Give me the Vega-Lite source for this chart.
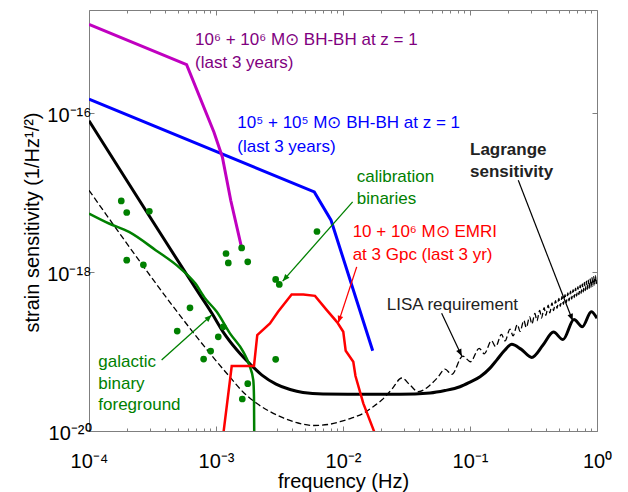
{
  "$schema": "https://vega.github.io/schema/vega-lite/v6.json",
  "width": 508,
  "height": 421,
  "autosize": "none",
  "padding": {"left": 89, "top": 10, "right": 31, "bottom": 61},
  "background": "white",
  "config": {
    "view": {"stroke": "#7f7f7f", "strokeWidth": 1},
    "font": "Liberation Sans",
    "axis": {"domain": false, "grid": false, "tickColor": "#7f7f7f", "tickWidth": 1, "labelFont": "Liberation Sans", "labelFontSize": 20, "labelColor": "#000", "titleFont": "Liberation Sans", "titleFontSize": 20, "titleFontWeight": "normal", "titleColor": "#000", "labelFlush": false, "labelOverlap": false}
  },
  "datasets": {
    "lisa": [
      {"f": 0.0001, "h": 1.074e-17}, {"f": 0.001288, "h": 4.77e-20}, {"f": 0.001633, "h": 3.10e-20}, {"f": 0.002089, "h": 2.23e-20},
      {"f": 0.00266, "h": 1.758e-20}, {"f": 0.00339, "h": 1.459e-20}, {"f": 0.00443, "h": 1.261e-20}, {"f": 0.00581, "h": 1.173e-20},
      {"f": 0.00762, "h": 1.207e-20}, {"f": 0.00947, "h": 1.309e-20}, {"f": 0.01177, "h": 1.459e-20}, {"f": 0.01445, "h": 1.671e-20},
      {"f": 0.01691, "h": 1.977e-20}, {"f": 0.02018, "h": 2.455e-20}, {"f": 0.0243, "h": 3.37e-20}, {"f": 0.029, "h": 4.65e-20},
      {"f": 0.0337, "h": 3.79e-20}, {"f": 0.0392, "h": 3.12e-20}, {"f": 0.0485, "h": 3.79e-20}, {"f": 0.056, "h": 4.77e-20},
      {"f": 0.0635, "h": 6.03e-20}, {"f": 0.0718, "h": 5.16e-20}, {"f": 0.0877, "h": 8.77e-20}, {"f": 0.1009, "h": 7.45e-20},
      {"f": 0.118, "h": 1.097e-19}, {"f": 0.1298, "h": 9.38e-20}, {"f": 0.1475, "h": 1.372e-19}, {"f": 0.1593, "h": 1.152e-19},
      {"f": 0.177, "h": 1.646e-19}, {"f": 0.1888, "h": 1.365e-19}, {"f": 0.2065, "h": 1.921e-19}, {"f": 0.2183, "h": 1.578e-19},
      {"f": 0.236, "h": 2.195e-19}, {"f": 0.2478, "h": 1.792e-19}, {"f": 0.2655, "h": 2.468e-19}, {"f": 0.2773, "h": 2.005e-19},
      {"f": 0.295, "h": 2.743e-19}, {"f": 0.3068, "h": 2.218e-19}, {"f": 0.3245, "h": 3.017e-19}, {"f": 0.3363, "h": 2.431e-19},
      {"f": 0.354, "h": 3.291e-19}, {"f": 0.3658, "h": 2.645e-19}, {"f": 0.3835, "h": 3.566e-19}, {"f": 0.3953, "h": 2.858e-19},
      {"f": 0.413, "h": 3.840e-19}, {"f": 0.4248, "h": 3.071e-19}, {"f": 0.4425, "h": 4.114e-19}, {"f": 0.4543, "h": 3.285e-19},
      {"f": 0.472, "h": 4.389e-19}, {"f": 0.4838, "h": 3.498e-19}, {"f": 0.5015, "h": 4.663e-19}, {"f": 0.5133, "h": 3.711e-19},
      {"f": 0.531, "h": 4.937e-19}, {"f": 0.5428, "h": 3.924e-19}, {"f": 0.5605, "h": 5.212e-19}, {"f": 0.5723, "h": 4.138e-19},
      {"f": 0.59, "h": 5.486e-19}, {"f": 0.6018, "h": 4.351e-19}, {"f": 0.6195, "h": 5.760e-19}, {"f": 0.6313, "h": 4.564e-19},
      {"f": 0.649, "h": 6.035e-19}, {"f": 0.6608, "h": 4.778e-19}, {"f": 0.6785, "h": 6.309e-19}, {"f": 0.6903, "h": 4.991e-19},
      {"f": 0.708, "h": 6.584e-19}, {"f": 0.7198, "h": 5.204e-19}, {"f": 0.7375, "h": 6.858e-19}, {"f": 0.7493, "h": 5.417e-19},
      {"f": 0.767, "h": 7.132e-19}, {"f": 0.7788, "h": 5.631e-19}, {"f": 0.7965, "h": 7.407e-19}, {"f": 0.8083, "h": 5.844e-19},
      {"f": 0.826, "h": 7.680e-19}, {"f": 0.8378, "h": 6.057e-19}, {"f": 0.8555, "h": 7.954e-19}, {"f": 0.8673, "h": 6.271e-19},
      {"f": 0.885, "h": 8.229e-19}, {"f": 0.8968, "h": 6.484e-19}, {"f": 0.9145, "h": 8.503e-19}, {"f": 0.9263, "h": 6.697e-19},
      {"f": 0.944, "h": 8.777e-19}, {"f": 0.9558, "h": 6.91e-19}, {"f": 0.9735, "h": 9.052e-19}, {"f": 0.9853, "h": 7.124e-19},
      {"f": 1.0, "h": 7.9e-19}
    ],
    "curves": [
      {"series": "m", "f": 0.0001, "h": 1.315e-15}, {"series": "m", "f": 0.000587, "h": 4.10e-16}, {"series": "m", "f": 0.000964, "h": 5.77e-17},
      {"series": "m", "f": 0.001122, "h": 2.82e-17}, {"series": "m", "f": 0.001306, "h": 8.05e-18}, {"series": "m", "f": 0.001592, "h": 2.02e-18},
      {"series": "b", "f": 0.0001, "h": 1.514e-16}, {"series": "b", "f": 0.00594, "h": 1.023e-17}, {"series": "b", "f": 0.00805, "h": 4.51e-18}, {"series": "b", "f": 0.01714, "h": 1.023e-19},
      {"series": "k", "f": 0.0001, "h": 8.05e-17}, {"series": "k", "f": 0.000734, "h": 5.40e-19}, {"series": "k", "f": 0.000931, "h": 3.01e-19},
      {"series": "k", "f": 0.00114, "h": 1.758e-19}, {"series": "k", "f": 0.001462, "h": 1.045e-19}, {"series": "k", "f": 0.001854, "h": 6.97e-20},
      {"series": "k", "f": 0.0023, "h": 5.06e-20}, {"series": "k", "f": 0.00297, "h": 3.90e-20}, {"series": "k", "f": 0.00383, "h": 3.33e-20},
      {"series": "k", "f": 0.00484, "h": 3.05e-20}, {"series": "k", "f": 0.00696, "h": 2.92e-20}, {"series": "k", "f": 0.01361, "h": 2.90e-20},
      {"series": "k", "f": 0.0281, "h": 2.90e-20}, {"series": "k", "f": 0.0485, "h": 3.01e-20}, {"series": "k", "f": 0.0635, "h": 3.23e-20},
      {"series": "k", "f": 0.0834, "h": 3.61e-20}, {"series": "k", "f": 0.1, "h": 4.13e-20}, {"series": "k", "f": 0.12, "h": 4.82e-20},
      {"series": "k", "f": 0.1437, "h": 6.19e-20}, {"series": "k", "f": 0.1622, "h": 7.81e-20}, {"series": "k", "f": 0.1853, "h": 1.015e-19},
      {"series": "k", "f": 0.213, "h": 1.233e-19}, {"series": "k", "f": 0.252, "h": 1.074e-19}, {"series": "k", "f": 0.3062, "h": 8.45e-20},
      {"series": "k", "f": 0.3758, "h": 1.208e-19}, {"series": "k", "f": 0.454, "h": 1.758e-19}, {"series": "k", "f": 0.54, "h": 1.416e-19},
      {"series": "k", "f": 0.659, "h": 2.53e-19}, {"series": "k", "f": 0.766, "h": 2.05e-19}, {"series": "k", "f": 0.902, "h": 3.17e-19},
      {"series": "k", "f": 1.0, "h": 2.62e-19},
      {"series": "g", "f": 0.0001, "h": 5.47e-18}, {"series": "g", "f": 0.0001437, "h": 4.10e-18}, {"series": "g", "f": 0.0002065, "h": 3.21e-18},
      {"series": "g", "f": 0.000335, "h": 1.892e-18}, {"series": "g", "f": 0.000512, "h": 1.15e-18}, {"series": "g", "f": 0.000684, "h": 7.28e-19},
      {"series": "g", "f": 0.000819, "h": 4.71e-19}, {"series": "g", "f": 0.001014, "h": 3.17e-19}, {"series": "g", "f": 0.001288, "h": 1.694e-19},
      {"series": "g", "f": 0.001641, "h": 9.93e-20}, {"series": "g", "f": 0.001829, "h": 6.76e-20}, {"series": "g", "f": 0.001966, "h": 4.38e-20},
      {"series": "g", "f": 0.001991, "h": 2.70e-20}, {"series": "g", "f": 0.002005, "h": 5e-21},
      {"series": "r", "f": 0.001114, "h": 6.67e-21}, {"series": "r", "f": 0.00133, "h": 6.58e-20}, {"series": "r", "f": 0.001991, "h": 6.58e-20},
      {"series": "r", "f": 0.002113, "h": 1.614e-19}, {"series": "r", "f": 0.00266, "h": 2.26e-19}, {"series": "r", "f": 0.00308, "h": 3.17e-19},
      {"series": "r", "f": 0.00394, "h": 5.24e-19}, {"series": "r", "f": 0.00487, "h": 5.24e-19}, {"series": "r", "f": 0.00602, "h": 5.03e-19},
      {"series": "r", "f": 0.00745, "h": 3.33e-19}, {"series": "r", "f": 0.00898, "h": 2.35e-19}, {"series": "r", "f": 0.01005, "h": 1.774e-19},
      {"series": "r", "f": 0.0105, "h": 1.023e-19}, {"series": "r", "f": 0.01205, "h": 7.45e-20}, {"series": "r", "f": 0.01254, "h": 4.92e-20},
      {"series": "r", "f": 0.01445, "h": 2.23e-20}, {"series": "r", "f": 0.01866, "h": 7.7e-21}
    ],
    "dots": [
      {"f": 0.0001795, "h": 7.89e-18}, {"f": 0.0001982, "h": 5.64e-18}, {"f": 0.0002986, "h": 5.85e-18}, {"f": 0.0001982, "h": 1.416e-18},
      {"f": 0.000268, "h": 1.236e-18}, {"f": 0.001199, "h": 1.718e-18}, {"f": 0.001592, "h": 2.02e-18}, {"f": 0.00125, "h": 1.309e-18},
      {"f": 0.001778, "h": 1.349e-18}, {"f": 0.00624, "h": 3.25e-18}, {"f": 0.00295, "h": 8.09e-19}, {"f": 0.00315, "h": 7.0e-19},
      {"f": 0.000624, "h": 3.56e-19}, {"f": 0.000495, "h": 1.811e-19}, {"f": 0.001042, "h": 1.535e-19}, {"f": 0.00114, "h": 2.05e-19},
      {"f": 0.000908, "h": 1.015e-19}, {"f": 0.000799, "h": 8.05e-20}, {"f": 0.00295, "h": 7.98e-20}, {"f": 0.001778, "h": 3.94e-20},
      {"f": 0.001611, "h": 2.53e-20}
    ],
    "arrows": [
      {"key": "a1", "f": 0.000373, "h": 7.81e-20}, {"key": "a1", "f": 0.000925, "h": 2.88e-19},
      {"key": "a2", "f": 0.01191, "h": 7.66e-18}, {"key": "a2", "f": 0.00335, "h": 7.71e-19},
      {"key": "a3", "f": 0.01282, "h": 1.167e-18}, {"key": "a3", "f": 0.00918, "h": 2.30e-19},
      {"key": "a4", "f": 0.0598, "h": 3.03e-19}, {"key": "a4", "f": 0.0861, "h": 8.77e-20},
      {"key": "a5", "f": 0.2399, "h": 1.435e-17}, {"key": "a5", "f": 0.644, "h": 2.44e-19}
    ],
    "heads": [
      {"key": "a1", "f": 0.000925, "h": 2.88e-19},
      {"key": "a2", "f": 0.00335, "h": 7.71e-19},
      {"key": "a3", "f": 0.00918, "h": 2.30e-19},
      {"key": "a4", "f": 0.0861, "h": 8.77e-20},
      {"key": "a5", "f": 0.644, "h": 2.44e-19}
    ],
    "labels": [
      {"key": "m", "f": 0.000684, "h": 7.16e-16, "text": "10⁶ + 10⁶ M⊙ BH-BH at z = 1\n(last 3 years)"},
      {"key": "b", "f": 0.001472, "h": 6.61e-17, "text": "10⁵ + 10⁵ M⊙ BH-BH at z = 1\n(last 3 years)"},
      {"key": "cal", "f": 0.01282, "h": 1.355e-17, "text": "calibration\nbinaries"},
      {"key": "emri", "f": 0.01191, "h": 2.78e-18, "text": "10 + 10⁶ M⊙ EMRI\nat 3 Gpc (last 3 yr)"},
      {"key": "lag", "f": 0.1, "h": 3.03e-17, "text": "Lagrange\nsensitivity"},
      {"key": "lisa", "f": 0.0221, "h": 3.33e-19, "text": "LISA requirement"},
      {"key": "gal", "f": 0.0001184, "h": 6.38e-20, "text": "galactic\nbinary\nforeground"}
    ]
  },
  "resolve": {"axis": {"x": "independent", "y": "independent"}},
  "encoding": {
    "x": {"field": "f", "type": "quantitative", "scale": {"type": "log", "domain": [0.0001, 1], "nice": false}, "axis": null},
    "y": {"field": "h", "type": "quantitative", "scale": {"type": "log", "domain": [1e-20, 2e-15], "nice": false}, "axis": null}
  },
  "layer": [
    {
      "data": {"name": "lisa"},
      "mark": {"type": "line", "color": "#000000", "strokeWidth": 1.3, "strokeDash": [6, 3], "interpolate": "monotone", "clip": true},
      "encoding": {
        "x": {"field": "f", "type": "quantitative", "scale": {"type": "log", "domain": [0.0001, 1], "nice": false},
          "axis": {"orient": "bottom", "values": [0.0001, 0.0002, 0.0003, 0.0004, 0.0005, 0.0006, 0.0007, 0.0008, 0.0009, 0.001, 0.002, 0.003, 0.004, 0.005, 0.006, 0.007, 0.008, 0.009, 0.01, 0.02, 0.03, 0.04, 0.05, 0.06, 0.07, 0.08, 0.09, 0.1, 0.2, 0.3, 0.4, 0.5, 0.6, 0.7, 0.8, 0.9, 1],
            "labelExpr": "datum.value == 0.0001 ? '10⁻⁴' : datum.value == 0.001 ? '10⁻³' : datum.value == 0.01 ? '10⁻²' : datum.value == 0.1 ? '10⁻¹' : datum.value == 1 ? '10⁰' : ''",
            "tickSize": {"condition": {"test": "datum.value == 0.0001 || datum.value == 0.001 || datum.value == 0.01 || datum.value == 0.1 || datum.value == 1", "value": -5}, "value": -3},
            "labelBaseline": "alphabetic", "labelPadding": 41,
            "title": "frequency (Hz)", "titleBaseline": "alphabetic", "titleY": 56}},
        "y": {"field": "h", "type": "quantitative", "scale": {"type": "log", "domain": [1e-20, 2e-15], "nice": false},
          "axis": {"orient": "left", "values": [1e-20, 1e-18, 1e-16],
            "labelExpr": "datum.value == 1e-20 ? '10⁻²⁰' : datum.value == 1e-18 ? '10⁻¹⁸' : '10⁻¹⁶'",
            "tickSize": -5, "labelPadding": 3, "labelBaseline": "middle", "labelOffset": 2,
            "title": "strain sensitivity (1/Hz¹/²)", "titleAngle": 270, "titleBaseline": "alphabetic", "titleX": -51, "titleY": 212}}
      }
    },
    {
      "data": {"name": "curves"}, "transform": [{"filter": "datum.series == 'k'"}],
      "mark": {"type": "line", "color": "#000000", "strokeWidth": 3, "interpolate": "monotone", "clip": true}
    },
    {
      "data": {"name": "curves"}, "transform": [{"filter": "datum.series == 'b'"}],
      "mark": {"type": "line", "color": "#0000ff", "strokeWidth": 3, "clip": true}
    },
    {
      "data": {"name": "curves"}, "transform": [{"filter": "datum.series == 'm'"}],
      "mark": {"type": "line", "color": "#c000c0", "strokeWidth": 3, "clip": true}
    },
    {
      "data": {"name": "curves"}, "transform": [{"filter": "datum.series == 'g'"}],
      "mark": {"type": "line", "color": "#008000", "strokeWidth": 2.5, "interpolate": "monotone", "clip": true}
    },
    {
      "data": {"name": "curves"}, "transform": [{"filter": "datum.series == 'r'"}],
      "mark": {"type": "line", "color": "#ff0000", "strokeWidth": 2.5, "clip": true}
    },
    {
      "data": {"name": "dots"},
      "mark": {"type": "circle", "color": "#008000", "size": 45, "opacity": 1},
      "encoding": {
        "x": {"field": "f", "type": "quantitative", "scale": {"type": "log", "domain": [0.0001, 1], "nice": false},
          "axis": {"orient": "top", "labels": false, "title": null, "values": [0.0001, 0.0002, 0.0003, 0.0004, 0.0005, 0.0006, 0.0007, 0.0008, 0.0009, 0.001, 0.002, 0.003, 0.004, 0.005, 0.006, 0.007, 0.008, 0.009, 0.01, 0.02, 0.03, 0.04, 0.05, 0.06, 0.07, 0.08, 0.09, 0.1, 0.2, 0.3, 0.4, 0.5, 0.6, 0.7, 0.8, 0.9, 1],
            "tickSize": {"condition": {"test": "datum.value == 0.0001 || datum.value == 0.001 || datum.value == 0.01 || datum.value == 0.1 || datum.value == 1", "value": -5}, "value": -3}}},
        "y": {"field": "h", "type": "quantitative", "scale": {"type": "log", "domain": [1e-20, 2e-15], "nice": false},
          "axis": {"orient": "right", "labels": false, "title": null, "values": [1e-20, 1e-18, 1e-16], "tickSize": -5}}
      }
    },
    {
      "data": {"name": "arrows"}, "transform": [{"filter": "datum.key == 'a1' || datum.key == 'a2'"}],
      "mark": {"type": "line", "color": "#008000", "strokeWidth": 1.3},
      "encoding": {"detail": {"field": "key"}}
    },
    {
      "data": {"name": "arrows"}, "transform": [{"filter": "datum.key == 'a3'"}],
      "mark": {"type": "line", "color": "#ff0000", "strokeWidth": 1.3},
      "encoding": {"detail": {"field": "key"}}
    },
    {
      "data": {"name": "arrows"}, "transform": [{"filter": "datum.key == 'a4' || datum.key == 'a5'"}],
      "mark": {"type": "line", "color": "#000000", "strokeWidth": 1.2},
      "encoding": {"detail": {"field": "key"}}
    },
    {
      "data": {"name": "heads"}, "transform": [{"filter": "datum.key == 'a1'"}],
      "mark": {"type": "point", "shape": "M0,0L-0.4,1L0.4,1Z", "filled": true, "size": 200, "angle": 48, "color": "#008000", "opacity": 1, "strokeWidth": 0}
    },
    {
      "data": {"name": "heads"}, "transform": [{"filter": "datum.key == 'a2'"}],
      "mark": {"type": "point", "shape": "M0,0L-0.4,1L0.4,1Z", "filled": true, "size": 200, "angle": 221, "color": "#008000", "opacity": 1, "strokeWidth": 0}
    },
    {
      "data": {"name": "heads"}, "transform": [{"filter": "datum.key == 'a3'"}],
      "mark": {"type": "point", "shape": "M0,0L-0.4,1L0.4,1Z", "filled": true, "size": 200, "angle": 198, "color": "#ff0000", "opacity": 1, "strokeWidth": 0}
    },
    {
      "data": {"name": "heads"}, "transform": [{"filter": "datum.key == 'a4'"}],
      "mark": {"type": "point", "shape": "M0,0L-0.4,1L0.4,1Z", "filled": true, "size": 200, "angle": 155, "color": "#000000", "opacity": 1, "strokeWidth": 0}
    },
    {
      "data": {"name": "heads"}, "transform": [{"filter": "datum.key == 'a5'"}],
      "mark": {"type": "point", "shape": "M0,0L-0.4,1L0.4,1Z", "filled": true, "size": 200, "angle": 159, "color": "#000000", "opacity": 1, "strokeWidth": 0}
    },
    {
      "data": {"name": "labels"}, "transform": [{"filter": "datum.key == 'm'"}],
      "mark": {"type": "text", "align": "left", "baseline": "alphabetic", "fontSize": 17, "lineBreak": "\n", "lineHeight": 22.5, "color": "#800080", "font": "Liberation Sans"},
      "encoding": {"text": {"field": "text"}}
    },
    {
      "data": {"name": "labels"}, "transform": [{"filter": "datum.key == 'b'"}],
      "mark": {"type": "text", "align": "left", "baseline": "alphabetic", "fontSize": 17, "lineBreak": "\n", "lineHeight": 24, "color": "#0000ff", "font": "Liberation Sans"},
      "encoding": {"text": {"field": "text"}}
    },
    {
      "data": {"name": "labels"}, "transform": [{"filter": "datum.key == 'cal' || datum.key == 'gal'"}],
      "mark": {"type": "text", "align": "left", "baseline": "alphabetic", "fontSize": 17, "lineBreak": "\n", "lineHeight": 21.5, "color": "#008000", "font": "Liberation Sans"},
      "encoding": {"text": {"field": "text"}}
    },
    {
      "data": {"name": "labels"}, "transform": [{"filter": "datum.key == 'emri'"}],
      "mark": {"type": "text", "align": "left", "baseline": "alphabetic", "fontSize": 17, "lineBreak": "\n", "lineHeight": 23, "color": "#ff0000", "font": "Liberation Sans"},
      "encoding": {"text": {"field": "text"}}
    },
    {
      "data": {"name": "labels"}, "transform": [{"filter": "datum.key == 'lag'"}],
      "mark": {"type": "text", "align": "left", "baseline": "alphabetic", "fontSize": 17, "fontWeight": "bold", "lineBreak": "\n", "lineHeight": 22, "color": "#222222", "font": "Liberation Sans"},
      "encoding": {"text": {"field": "text"}}
    },
    {
      "data": {"name": "labels"}, "transform": [{"filter": "datum.key == 'lisa'"}],
      "mark": {"type": "text", "align": "left", "baseline": "alphabetic", "fontSize": 17, "color": "#222222", "font": "Liberation Sans"},
      "encoding": {"text": {"field": "text"}}
    }
  ]
}
